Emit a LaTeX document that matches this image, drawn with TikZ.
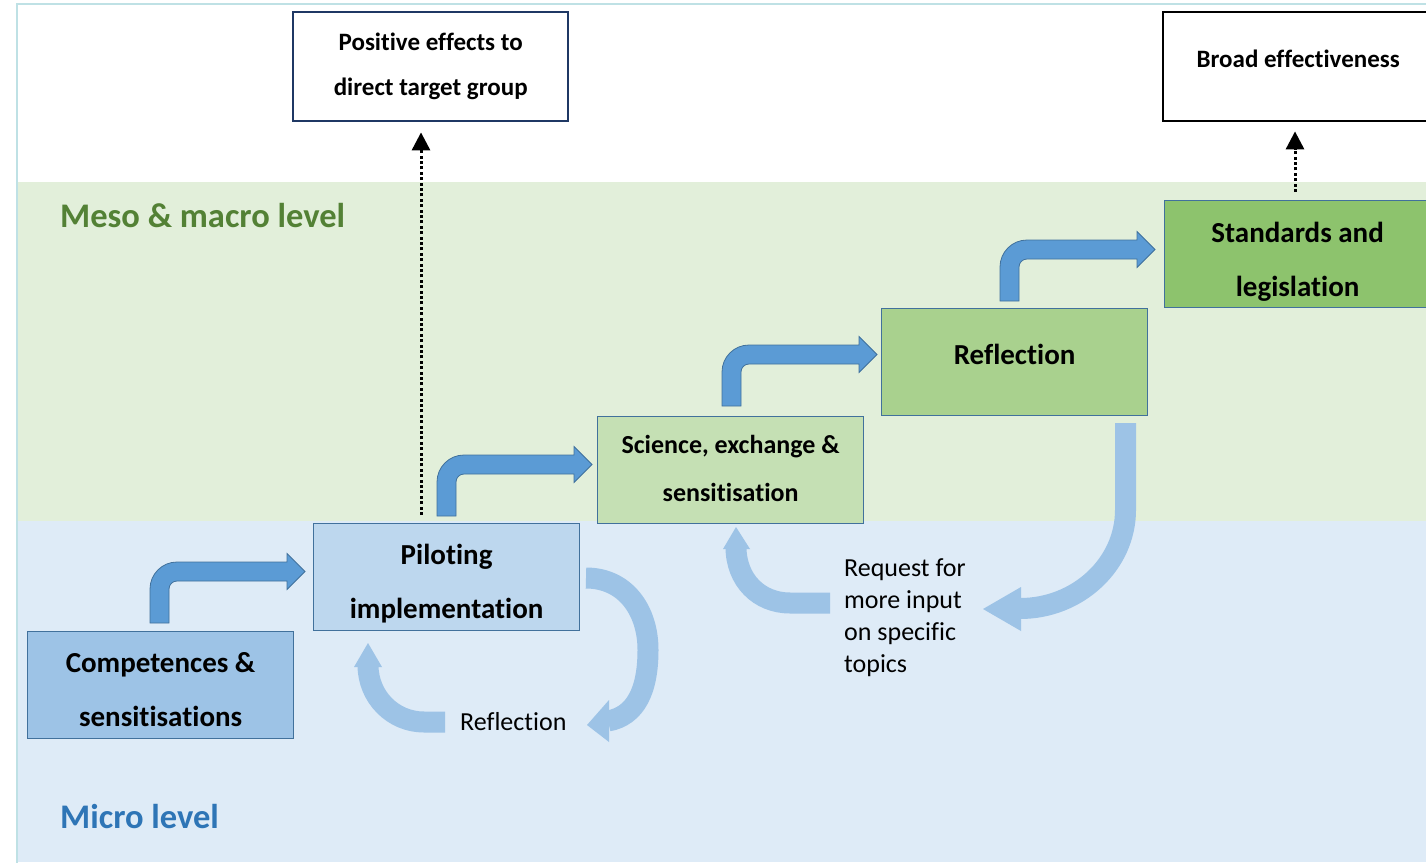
\documentclass[tikz,border=0pt]{standalone}
\usepackage{fontspec}
\setmainfont[Ligatures=NoCommon]{Carlito}
\usetikzlibrary{arrows.meta,calc}
\definecolor{bandgreen}{HTML}{E2EFDA}
\definecolor{bandblue}{HTML}{DEEBF7}
\definecolor{frameline}{HTML}{BFE1E5}
\definecolor{mesogreen}{HTML}{538135}
\definecolor{microblue}{HTML}{2E75B6}
\definecolor{boxedge}{HTML}{41719C}
\definecolor{navy}{HTML}{1F3864}
\definecolor{fcomp}{HTML}{9DC3E6}
\definecolor{fpil}{HTML}{BDD7EE}
\definecolor{fsci}{HTML}{C5E0B4}
\definecolor{fref}{HTML}{A9D18E}
\definecolor{fstd}{HTML}{8DC36D}
\definecolor{bentfill}{HTML}{5B9BD5}
\definecolor{loopfill}{HTML}{9DC3E6}
\newcommand{\toprule}[1]{\rule{0pt}{#1}}
\newcommand{\botrule}[1]{\rule[-#1]{0pt}{#1}}
\tikzset{
  bentarrow/.pic={
    \filldraw[fill=bentfill, draw=boxedge, line width=0.8pt]
      (0,0) -- (0,-34) .. controls (0,-48.9) and (12.1,-61) .. (27,-61)
      -- (137,-61) -- (137,-69.5) -- (155,-51.5) -- (137,-33.5) -- (137,-42)
      -- (27,-42) .. controls (22.6,-42) and (19,-38.4) .. (19,-34) -- (19,0) -- cycle;
  }
}
\begin{document}
\begin{tikzpicture}[x=1pt,y=-1pt,
  stage/.style={draw=boxedge, line width=1.2pt, minimum width=266pt, minimum height=107pt,
    anchor=north west, inner sep=0pt, align=center, font=\bfseries\fontsize{29}{54}\selectfont},
  outcome/.style={line width=2.4pt, fill=white, minimum height=109pt, anchor=north west,
    inner sep=0pt, align=center, font=\bfseries\fontsize{25}{45}\selectfont},
  levellabel/.style={font=\bfseries\fontsize{34.5}{40}\selectfont, anchor=west, inner sep=0pt},
  plainlabel/.style={font=\fontsize{26}{32}\selectfont, inner sep=0pt},
  dotarrow/.style={line width=3pt, dash pattern=on 3pt off 2.4pt, -{Triangle[length=18pt,width=18pt]}},
  loopbody/.style={draw=loopfill, line width=21pt},
  loophead/.style={fill=loopfill}
]
\useasboundingbox (0,0) rectangle (1426,862);
\clip (0,0) rectangle (1426,862);
% background bands
\fill[white] (0,0) rectangle (1426,862);
\fill[bandgreen] (18,182) rectangle (1426,521);
\fill[bandblue] (18,521) rectangle (1426,862);
\draw[frameline, line width=2pt] (16.5,870) -- (16.5,4) -- (1430,4);

% level labels
\node[levellabel, text=mesogreen] (meso) at (60,216) {Meso \& macro level};
\node[levellabel, text=microblue] (micro) at (60,817) {Micro level};

% outcome boxes
\node[outcome, draw=navy, minimum width=275pt] (pos) at (292,11) {Positive effects to\\direct target group\botrule{2pt}};
\node[outcome, draw=black, minimum width=270pt, text depth=15pt] (broad) at (1162,11) {Broad effectiveness};

% stage boxes
\node[stage, fill=fcomp] (comp) at (27,631) {\toprule{29pt}Competences \&\\sensitisations};
\node[stage, fill=fpil] (pil) at (313,523) {\toprule{33pt}Piloting\\implementation};
\node[stage, fill=fsci, font=\bfseries\fontsize{26}{48}\selectfont] (sci) at (597,416) {Science, exchange \&\\sensitisation\botrule{4pt}};
\node[stage, fill=fref, text depth=16pt] (refl) at (881,308) {Reflection};
\node[stage, fill=fstd] (std) at (1164,200) {\toprule{35pt}Standards and\\legislation};

% bent arrows between stages
\pic (b1) at (150,623) {bentarrow};
\pic (b2) at (437,516) {bentarrow};
\pic (b3) at (722,406) {bentarrow};
\pic (b4) at (1000,301) {bentarrow};

% dotted effect arrows
\coordinate (d1) at (421,0);
\coordinate (d2) at (1295,0);
\draw[dotarrow, shorten <=8pt, shorten >=10pt] (pil.north -| d1) -- (pos.south -| d1);
\draw[dotarrow, shorten <=8pt, shorten >=9pt] (std.north -| d2) -- (broad.south -| d2);

% feedback loop around piloting
\draw[loopbody] (586,578) .. controls (625,578) and (648,610) .. (648,650)
  .. controls (648,690) and (636,716) .. (608,721);
\fill[loophead] (609,700) -- (587,725) -- (609,742) -- cycle;
\draw[loopbody] (445,722) -- (424,722) .. controls (393,722) and (368,697) .. (368,665);
\fill[loophead] (354,667) -- (368,643) -- (382,667) -- cycle;

% feedback loop reflection -> science
\draw[loopbody] (1125.5,423) -- (1125.5,510) .. controls (1125.5,564) and (1078,608.5) .. (1020,608.5);
\fill[loophead] (1021,587) -- (983,609) -- (1021,631) -- cycle;
\draw[loopbody] (830,603) -- (790,603) .. controls (759,603) and (736,580) .. (736,547);
\fill[loophead] (723,549) -- (736,527) -- (750,549) -- cycle;

% loop labels
\node[plainlabel, anchor=west] (reflab) at (460,722) {Reflection};
\node[plainlabel, anchor=north west, align=left] (req) at (844,558) {Request for\\more input\\on specific\\topics};
\end{tikzpicture}
\end{document}
